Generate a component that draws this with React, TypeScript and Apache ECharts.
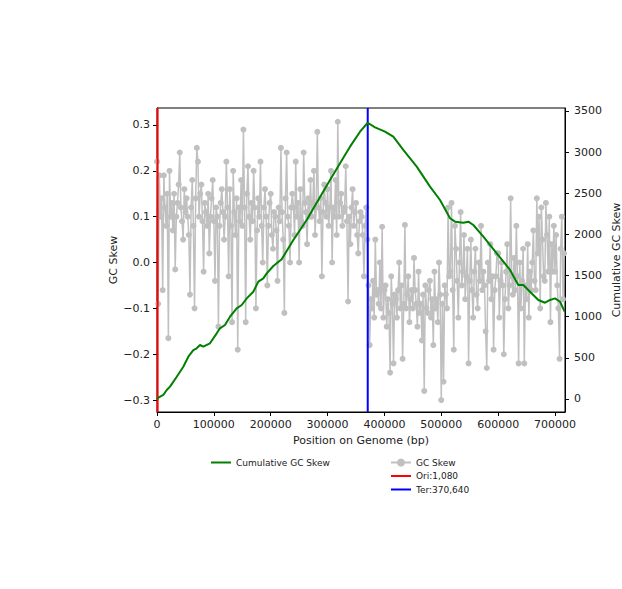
import React, { useEffect, useRef } from "react";
import * as echarts from "echarts";

// GC skew sampled every 2,000 bp from position 0
const SKEW_STEP = 2000;
const gcSkew: number[] = [
  0.22, -0.09, 0.19, 0.1, 0.14, -0.06, 0.19, 0.12, 0.08, 0.15, -0.165, 0.2, 0.1, 0.13, 0.07,
  0.15, -0.015, 0.1, 0.13, 0.17, 0.24, 0.12, 0.09, 0.05, 0.16, 0.11, 0.14, 0.1, 0.06, -0.07,
  0.12, 0.18, 0.08, -0.1, 0.14, 0.25, 0.22, 0.1, 0.15, 0.17, 0.09, -0.02, 0.13, 0.11, 0.08,
  0.15, 0.02, 0.1, 0.14, 0.18, 0.09, -0.04, 0.12, 0.1, -0.14, 0.08, 0.13, 0.16, 0.11, 0.05,
  0.1, 0.22, 0.12, -0.03, 0.16, 0.08, -0.13, 0.2, 0.11, 0.06, 0.14, -0.19, 0.12, 0.09, 0.18,
  0.08, 0.29, 0.12, -0.13, 0.15, 0.21, 0.1, 0.05, 0.13, 0.09, 0.2, 0.12, -0.1, 0.07, 0.14,
  0.1, 0.22, 0.08, 0.0, 0.12, 0.16, 0.1, -0.05, 0.08, 0.13, 0.15, 0.06, 0.03, 0.11, 0.1,
  0.07, -0.04, 0.12, 0.09, 0.25, 0.11, 0.05, -0.11, 0.14, 0.24, 0.1, 0.08, 0.0, 0.12, 0.15,
  0.12, 0.06, 0.22, 0.1, 0.13, 0.0, 0.16, 0.09, 0.08, 0.24, 0.13, 0.11, 0.04, 0.14, 0.1,
  0.18, 0.1, 0.13, 0.2, 0.06, 0.12, 0.285, 0.12, 0.09, 0.14, -0.03, 0.11, 0.17, 0.13, 0.1,
  0.16, 0.08, 0.12, 0.2, 0.0, 0.12, 0.1, 0.18, 0.06, 0.307, 0.1, 0.13, 0.15, 0.08, 0.11,
  0.12, 0.21, 0.09, -0.085, 0.1, 0.04, 0.12, 0.16, 0.08, 0.11, 0.13, 0.06, 0.02, 0.09, 0.11,
  0.1, 0.06, -0.03, 0.08, 0.12, 0.05, -0.05, -0.18, -0.08, -0.1, -0.04, -0.12, 0.05, -0.07, -0.06,
  -0.09, 0.0, -0.1, 0.078, -0.12, -0.06, -0.05, -0.14, -0.08, -0.11, -0.24, -0.03, -0.09, -0.22, -0.07,
  -0.08, -0.12, -0.06, 0.0, -0.1, -0.05, -0.21, -0.09, 0.082, -0.1, -0.07, -0.03, -0.13, -0.08, -0.06,
  -0.1, 0.01, -0.06, -0.09, -0.14, -0.02, -0.11, -0.09, -0.17, -0.07, -0.28, -0.05, -0.1, -0.11, -0.06,
  -0.04, -0.12, -0.08, -0.18, -0.02, -0.1, -0.08, -0.13, 0.0, -0.07, -0.3, -0.09, -0.26, -0.05, -0.07,
  -0.1, 0.12, -0.03, -0.02, 0.13, -0.06, -0.19, 0.08, 0.03, -0.04, -0.12, 0.0, 0.11, -0.05, -0.02,
  0.06, -0.08, -0.03, 0.03, -0.22, -0.04, 0.05, -0.06, -0.12, -0.02, 0.03, -0.07, -0.1, 0.0, -0.04,
  0.08, -0.06, -0.02, -0.05, -0.15, -0.23, 0.0, -0.04, 0.04, -0.08, -0.03, -0.19, -0.06, -0.03, 0.02,
  0.02, -0.12, -0.04, 0.0, -0.05, -0.2, -0.08, -0.02, 0.04, -0.1, -0.05, 0.14, -0.03, -0.07, 0.01,
  -0.06, 0.08, -0.03, -0.22, 0.0, -0.1, -0.04, 0.03, -0.22, -0.05, -0.08, 0.04, -0.12, -0.02, -0.06,
  0.0, 0.07, -0.04, -0.06, 0.14, 0.02, 0.1, -0.1, 0.12, 0.05, -0.03, -0.04, 0.13, 0.06, -0.02,
  0.1, -0.13, 0.04, -0.02, 0.08, -0.02, 0.06, -0.05, -0.1, -0.21, 0.03, 0.1, -0.08, 0.02,
];

const cumPositions: number[] = [
  0, 2300, 11100, 17100, 22900, 34700, 46300, 55100, 63900, 69800,
  75600, 81400, 93200, 105000, 110800, 119600, 128400, 140200, 149000, 157800,
  169400, 178200, 187000, 193000, 204600, 219300, 239800, 263300, 283700, 304300,
  321900, 339500, 357100, 370640, 383500, 401000, 415600, 433200, 456800, 480200,
  497800, 515400, 524200, 538800, 547600, 556400, 574000, 597500, 620900, 635500,
  644300, 656100, 670700, 682500, 691300, 700100, 708900, 717000,
];
const cumValues: number[] = [
  0, 16, 49, 109, 150, 271, 392, 514, 595, 616,
  656, 636, 677, 798, 859, 899, 1000, 1102, 1142, 1223,
  1304, 1426, 1466, 1527, 1616, 1698, 1932, 2175, 2418, 2661,
  2864, 3066, 3248, 3357, 3301, 3248, 3187, 3026, 2823, 2580,
  2418, 2196, 2155, 2142, 2155, 2114, 1972, 1770, 1568, 1385,
  1385, 1304, 1203, 1170, 1203, 1223, 1182, 1061,
];

const ORI = 1080;
const TER = 370640;
const GENOME_END = 717600;
const skewTicks = [-0.3, -0.2, -0.1, 0.0, 0.1, 0.2, 0.3];
const cumTicks = [0, 500, 1000, 1500, 2000, 2500, 3000, 3500];
const posTicks = [0, 100000, 200000, 300000, 400000, 500000, 600000, 700000];
const SKEW_MIN = -0.326;
const SKEW_MAX = 0.337;
const CUM_MIN = -158;
const CUM_MAX = 3536;

const FONT = "DejaVu Sans";
const LINE_ICON = "path://M0,0L20,0L20,2L0,2Z";

export default function App() {
  const ref = useRef<HTMLDivElement>(null);
  useEffect(() => {
    if (!ref.current) return;
    const chart = echarts.init(ref.current, undefined, { renderer: "svg" });
    const skewData = gcSkew.map((v, i) => [i * SKEW_STEP, v]);
    const cumData = cumPositions.map((p, i) => [p, cumValues[i]]);
    const fmtMinus = (v: number, d: number) => v.toFixed(d).replace("-", "\u2212");
    const txt = { fontFamily: FONT, fontSize: 11, color: "#222" };
    const legendText = { fontFamily: FONT, fontSize: 9, color: "#222" };
    chart.setOption({
      animation: false,
      backgroundColor: "#fff",
      grid: {
        left: 157, right: 57, top: 108, bottom: 177,
        outerBoundsMode: "none",
        containLabel: false,
        show: true, borderColor: "#000", borderWidth: 1, backgroundColor: "transparent",
      },
      legend: [
        {
          data: [{ name: "Cumulative GC Skew", icon: LINE_ICON }],
          left: 206, top: 453,
          itemWidth: 20, itemHeight: 10, itemGap: 4,
          textStyle: legendText,
        },
        {
          data: [
            { name: "GC Skew" },
            { name: "Ori:1,080", icon: LINE_ICON },
            { name: "Ter:370,640", icon: LINE_ICON },
          ],
          orient: "vertical",
          left: 385, top: 453,
          itemWidth: 20, itemHeight: 10, itemGap: 4.5,
          textStyle: legendText,
        },
      ],
      xAxis: {
        type: "value",
        min: 0, max: GENOME_END,
        name: "Position on Genome (bp)",
        nameLocation: "middle", nameGap: 23,
        nameMoveOverlap: false,
        nameTextStyle: txt,
        splitLine: { show: false },
        axisLine: { show: true, onZero: false, lineStyle: { color: "#000" } },
        axisTick: { show: true, length: 4, customValues: posTicks, lineStyle: { color: "#000" } },
        axisLabel: { ...txt, margin: 7, customValues: posTicks, formatter: (v: number) => String(v) },
      },
      yAxis: [
        {
          type: "value",
          min: SKEW_MIN, max: SKEW_MAX,
          name: "GC Skew",
          nameLocation: "middle", nameGap: 38, nameRotate: 90,
          nameMoveOverlap: false,
          nameTextStyle: txt,
          splitLine: { show: false },
          axisLine: { show: true, onZero: false, lineStyle: { color: "#000" } },
          axisTick: { show: true, length: 4, customValues: skewTicks, lineStyle: { color: "#000" } },
          axisLabel: { ...txt, margin: 7, customValues: skewTicks, formatter: (v: number) => fmtMinus(v, 1) },
        },
        {
          type: "value",
          position: "right",
          min: CUM_MIN, max: CUM_MAX,
          name: "Cumulative GC Skew",
          nameLocation: "middle", nameGap: 46, nameRotate: 90,
          nameMoveOverlap: false,
          nameTextStyle: txt,
          splitLine: { show: false },
          axisLine: { show: true, onZero: false, lineStyle: { color: "#000" } },
          axisTick: { show: true, length: 4, customValues: cumTicks, lineStyle: { color: "#000" } },
          axisLabel: { ...txt, margin: 9, customValues: cumTicks, formatter: (v: number) => String(v) },
        },
      ],
      series: [
        {
          name: "GC Skew",
          type: "line",
          yAxisIndex: 0,
          data: skewData,
          symbol: "circle",
          symbolSize: 6,
          showAllSymbol: true,
          lineStyle: { color: "#c0c0c0", width: 1.5 },
          itemStyle: { color: "#c0c0c0" },
          z: 2,
        },
        {
          name: "Ori:1,080",
          type: "line",
          yAxisIndex: 0,
          data: [[ORI, SKEW_MIN], [ORI, SKEW_MAX]],
          symbol: "none",
          lineStyle: { color: "#ff0000", width: 2 },
          itemStyle: { color: "#ff0000" },
          z: 3,
        },
        {
          name: "Ter:370,640",
          type: "line",
          yAxisIndex: 0,
          data: [[TER, SKEW_MIN], [TER, SKEW_MAX]],
          symbol: "none",
          lineStyle: { color: "#0000ff", width: 2 },
          itemStyle: { color: "#0000ff" },
          z: 3,
        },
        {
          name: "Cumulative GC Skew",
          type: "line",
          yAxisIndex: 1,
          data: cumData,
          symbol: "none",
          lineStyle: { color: "#008000", width: 2 },
          itemStyle: { color: "#008000" },
          z: 4,
        },
      ],
    });
    return () => chart.dispose();
  }, []);
  return <div ref={ref} style={{ width: 622, height: 589, position: "absolute", left: 0, top: 0 }} />;
}
